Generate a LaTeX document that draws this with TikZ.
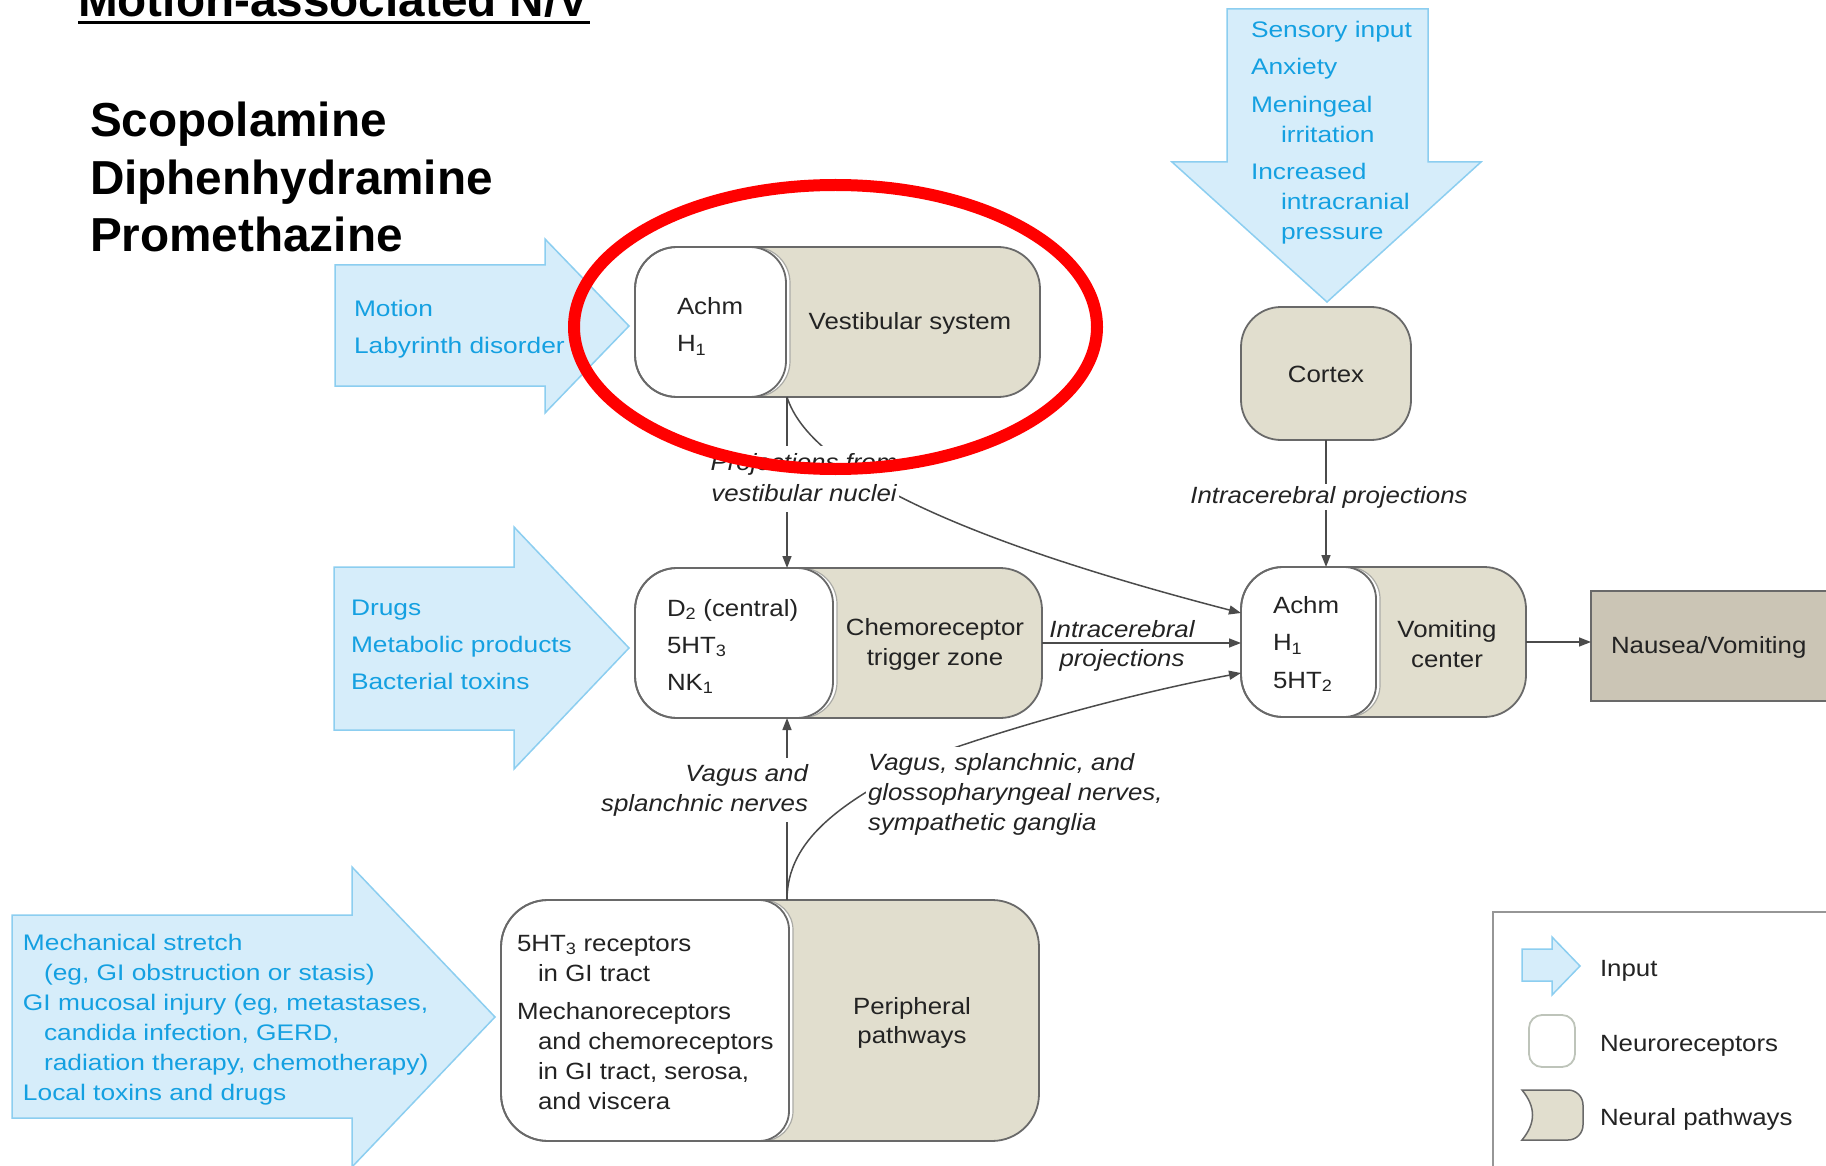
\documentclass[tikz,border=0pt]{standalone}
\usepackage{fontspec}
\setmainfont{Liberation Sans}
\newfontfamily\bodyfont[FakeStretch=1.1]{Liberation Sans}
\newfontfamily\inputfont[FakeStretch=1.17]{Liberation Sans}
\newfontfamily\headfont{Liberation Sans}
\usetikzlibrary{arrows.meta,calc}

\definecolor{beige}{RGB}{225,222,206}
\definecolor{taupe}{RGB}{203,197,181}
\definecolor{edge}{RGB}{105,105,105}
\definecolor{gapedge}{RGB}{170,170,165}
\definecolor{inputfill}{RGB}{214,237,250}
\definecolor{inputedge}{RGB}{140,206,240}
\definecolor{inputtext}{RGB}{20,160,225}
\definecolor{ink}{RGB}{35,35,35}
\definecolor{wirecol}{RGB}{75,75,75}
\definecolor{alertred}{RGB}{255,0,0}
\definecolor{legendedge}{RGB}{150,150,150}
\definecolor{recgray}{RGB}{190,196,186}

% multi-line text whose anchor baseline is the first line
\newcommand\textlines[2][l]{\begin{tabular}[t]{@{}#1@{}}#2\end{tabular}}

% capsule: name, left, top, right, bottom, receptor edge, outer radius, receptor radius
\newcommand\capsule[8]{%
  \node[capsulefill, minimum width={(#4-#2)*1pt}, minimum height={(#5-#3)*1pt},
        rounded corners=#7pt] (#1) at ({(#2+#4)/2},{(#3+#5)/2}) {};
  \path[recgap] ({#2+#7},#3) -- ({#6+4-#8},#3) arc[start angle=-90,end angle=0,radius=#8]
     -- ({#6+4},{#5-#8}) arc[start angle=0,end angle=90,radius=#8] -- ({#2+#7},#5) -- cycle;
  \path[recbox] ({#2+#7},#3) -- ({#6-#8},#3) arc[start angle=-90,end angle=0,radius=#8]
     -- (#6,{#5-#8}) arc[start angle=0,end angle=90,radius=#8]
     -- ({#2+#7},#5) arc[start angle=90,end angle=180,radius=#7]
     -- (#2,{#3+#7}) arc[start angle=180,end angle=270,radius=#7] -- cycle;
  \draw[capsuleedge, rounded corners=#7pt] (#1.north west) rectangle (#1.south east);
}

\begin{document}
\begin{tikzpicture}[x=1pt,y=-1pt,
  every node/.style={inner sep=0pt,outer sep=0pt},
  headtxt/.style={font={\headfont\bfseries\fontsize{47.7}{57.5}\selectfont}, text=black},
  bodytxt/.style={font={\bodyfont\fontsize{23.5}{#1}\selectfont}, text=ink},
  bodytxt/.default=30,
  labeltxt/.style={font={\bodyfont\itshape\fontsize{23.5}{#1}\selectfont}, text=ink},
  labeltxt/.default=30,
  inputtxt/.style={font={\inputfont\fontsize{22.5}{#1}\selectfont}, text=inputtext},
  inputtxt/.default=30,
  inputarrow/.style={fill=inputfill, draw=inputedge, line width=1.5pt, line join=miter},
  capsulefill/.style={fill=beige, rectangle},
  capsuleedge/.style={draw=edge, line width=1.8pt},
  recgap/.style={fill=white, draw=gapedge, line width=1.2pt},
  recbox/.style={fill=white, draw=edge, line width=1.8pt},
  beigebox/.style={fill=beige, draw=edge, line width=1.8pt, rectangle},
  nvbox/.style={fill=taupe, draw=edge, line width=1.8pt, rectangle},
  wire/.style={draw=wirecol, line width=1.5pt, -{Triangle[length=12pt,width=9pt]}},
  whitelabel/.style={fill=white, inner sep=2pt},
]
\useasboundingbox (0,0) rectangle (1826,1166);

% heading and drug list
\node[headtxt, anchor=base west] (title) at (78,17) {Motion-associated N/V};
\draw[line width=3pt] ($(title.base west)+(0,6)$) -- ($(title.base east)+(0,6)$);
\node[headtxt, anchor=base west] (druglist) at (90,137)
  {\textlines{Scopolamine\\Diphenhydramine\\Promethazine}};

% input arrows
\path[inputarrow] (335,265) -- (545,265) -- (545,239) -- (629,326) -- (545,413) -- (545,386) -- (335,386) -- cycle;
\node[inputtxt=36, anchor=base west] (motiontxt) at (354,317) {\textlines{Motion\\Labyrinth disorder}};

\path[inputarrow] (334,567) -- (514,567) -- (514,527) -- (629,648) -- (514,769) -- (514,730) -- (334,730) -- cycle;
\node[inputtxt=37, anchor=base west] (drugstxt) at (351,615)
  {\textlines{Drugs\\Metabolic products\\Bacterial toxins}};

\path[inputarrow] (12,915) -- (352,915) -- (352,867) -- (495,1017) -- (352,1167) -- (352,1118) -- (12,1118) -- cycle;
\node[inputtxt=30, anchor=base west] (gitxt) at (23,950)
  {\textlines{Mechanical stretch\\
   \hspace*{21pt}(eg, GI obstruction or stasis)\\
   GI mucosal injury (eg, metastases,\\
   \hspace*{21pt}candida infection, GERD,\\
   \hspace*{21pt}radiation therapy, chemotherapy)\\
   Local toxins and drugs}};

\path[inputarrow] (1227,9) -- (1428,9) -- (1428,162) -- (1481,162) -- (1327,302) -- (1172,162) -- (1227,162) -- cycle;
\node[inputtxt=30, anchor=base west] (cortextxt) at (1251,38)
  {\textlines{Sensory input\\[7pt]
   Anxiety\\[8pt]
   Meningeal\\
   \hspace*{30pt}irritation\\[7pt]
   Increased\\
   \hspace*{30pt}intracranial\\
   \hspace*{30pt}pressure}};

% receptor / pathway capsules
\capsule{vest}{635}{247}{1040}{397}{786}{42}{36}
\capsule{ctz}{635}{568}{1042}{718}{833}{42}{36}
\capsule{vc}{1241}{567}{1526}{717}{1376}{42}{32}
\capsule{peri}{501}{900}{1039}{1141}{789}{47}{30}

\node[beigebox, minimum width=170pt, minimum height=133pt, rounded corners=40pt] (cortex) at (1326,373.5) {};
\node[nvbox, minimum width=270pt, minimum height=110pt] (nv) at (1726,646) {};

% capsule texts
\node[bodytxt=37, anchor=base west] (vestrec) at (677,315) {\textlines{Achm\\H\textsubscript{1}}};
\node[bodytxt, anchor=base] (vesttxt) at (910,330) {Vestibular system};
\node[bodytxt=37, anchor=base west] (ctzrec) at (667,616)
  {\textlines{D\textsubscript{2} (central)\\5HT\textsubscript{3}\\NK\textsubscript{1}}};
\node[bodytxt=30, anchor=base] (ctztxt) at (935,635) {\textlines[c]{Chemoreceptor\\trigger zone}};
\node[bodytxt=37.5, anchor=base west] (vcrec) at (1273,613)
  {\textlines{Achm\\H\textsubscript{1}\\5HT\textsubscript{2}}};
\node[bodytxt=30, anchor=base] (vctxt) at (1447,637) {\textlines[c]{Vomiting\\center}};
\node[bodytxt, anchor=base] (cortexname) at (1326,382) {Cortex};
\node[bodytxt, anchor=base west] (nvtxt) at (1611,653) {Nausea/Vomiting};
\node[bodytxt=30, anchor=base west] (perirec) at (517,951)
  {\textlines{5HT\textsubscript{3} receptors\\
   \hspace*{21pt}in GI tract\\[8pt]
   Mechanoreceptors\\
   \hspace*{21pt}and chemoreceptors\\
   \hspace*{21pt}in GI tract, serosa,\\
   \hspace*{21pt}and viscera}};
\node[bodytxt=29, anchor=base] (peritxt) at (912,1014) {\textlines[c]{Peripheral\\pathways}};

% connectors
\coordinate (vestfoot) at (787,397);
\coordinate (perihead) at (787,900);
\draw[wire] (vestfoot) -- (vestfoot |- ctz.north);
\draw[wire] (vestfoot) .. controls (810,470) and (960,540) .. ($(vc.west)+(0,-29)$);
\draw[wire] (ctz.east) -- (ctz.east -| vc.west);
\draw[wire] (perihead) -- (perihead |- ctz.south);
\draw[wire] (perihead) .. controls (787,840) and (840,800) .. (942,752)
  .. controls (1040,718) and (1150,690) .. ($(vc.west)+(0,31)$);
\draw[wire] (cortex.south) -- (cortex.south |- vc.north);
\draw[wire] (vc.east) -- (vc.east -| nv.west);

% connector labels
\node[labeltxt=31, whitelabel, anchor=base] (projlbl) at (804,470)
  {\textlines[c]{Projections from\\vestibular nuclei}};
\node[labeltxt, whitelabel, anchor=base] (cortexlbl) at (1329,503) {Intracerebral projections};
\node[labeltxt=29, anchor=base] (ctzlbl) at (1122,637) {\textlines[c]{Intracerebral\\projections}};
\node[labeltxt=30, whitelabel, anchor=base east] (vaguslbl) at (810,781)
  {\textlines[r]{Vagus and\\splanchnic nerves}};
\node[labeltxt=30, whitelabel, anchor=base west] (glossolbl) at (866,770)
  {\textlines{Vagus, splanchnic, and\\glossopharyngeal nerves,\\sympathetic ganglia}};

% legend
\draw[draw=legendedge, line width=2pt] (1493,912) rectangle (1850,1190);
\path[inputarrow] (1522,949) -- (1552,949) -- (1552,937) -- (1580,966) -- (1552,995) -- (1552,981) -- (1522,981) -- cycle;
\node[draw=recgray, line width=1.8pt, fill=white, rounded corners=13pt, minimum width=46pt, minimum height=52pt] (legrec) at (1552,1041) {};
\path[fill=beige, draw=edge, line width=1.5pt] (1522,1090) -- (1568,1090) arc[start angle=-90,end angle=0,radius=15]
  -- (1583,1125) arc[start angle=0,end angle=90,radius=15] -- (1522,1140)
  .. controls (1536,1123) and (1536,1107) .. (1522,1090) -- cycle;
\node[bodytxt, anchor=base west] (leginput) at (1600,976) {Input};
\node[bodytxt, anchor=base west] (legrectxt) at (1600,1051) {Neuroreceptors};
\node[bodytxt, anchor=base west] (legpath) at (1600,1125) {Neural pathways};

% highlight around the vestibular system
\draw[draw=alertred, line width=12pt] (835.5,327) ellipse [x radius=261.5, y radius=142];
\end{tikzpicture}
\end{document}
